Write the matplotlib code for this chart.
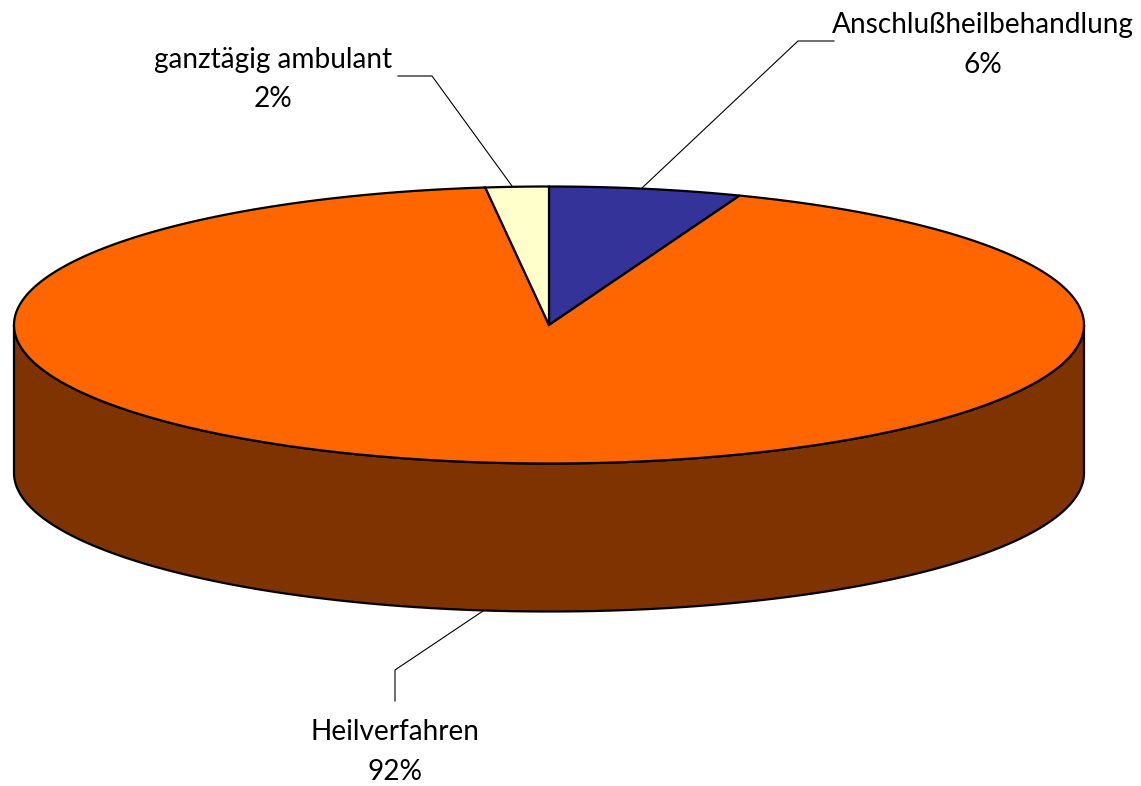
import numpy as np
import matplotlib
matplotlib.use("Agg")
import matplotlib.pyplot as plt
from matplotlib.patches import Polygon

categories = ["Anschlußheilbehandlung", "Heilverfahren", "ganztägig ambulant"]
values = [5.8, 92.3, 1.9]
colors = ["#333399", "#FF6600", "#FFFFCC"]
side_colors = ["#19194D", "#7F3300", "#80806A"]

W, H = 1141, 786
fig = plt.figure(figsize=(W / 100, H / 100), dpi=100, facecolor="white")
ax = fig.add_axes([0, 0, 1, 1])
ax.set_xlim(0, W)
ax.set_ylim(H, 0)
ax.axis("off")

CX, CY, RX, RY, DEPTH = 549, 325, 535, 138.5, 148
LW = 1.6


def pt(theta):
    return CX + RX * np.sin(theta), CY - RY * np.cos(theta)


fracs = np.array(values) / sum(values) * 2 * np.pi
starts = np.concatenate([[0], np.cumsum(fracs)[:-1]])

# side wall (front half only)
for s, f, c in zip(starts, fracs, side_colors):
    lo, hi = max(s, np.pi / 2), min(s + f, 3 * np.pi / 2)
    if hi <= lo:
        continue
    t = np.linspace(lo, hi, 300)
    x, y = pt(t)
    xy = np.r_[np.c_[x, y], np.c_[x[::-1], y[::-1] + DEPTH]]
    ax.add_patch(Polygon(xy, closed=True, fc=c, ec="black", lw=LW, joinstyle="round", zorder=2))

# top faces
for s, f, c in zip(starts, fracs, colors):
    t = np.linspace(s, s + f, 600)
    x, y = pt(t)
    xy = np.r_[[[CX, CY]], np.c_[x, y]]
    ax.add_patch(Polygon(xy, closed=True, fc=c, ec="black", lw=LW, joinstyle="miter", zorder=3))

# leader lines and labels
leaders = [
    [(834, 41), (798, 41), (642, 188)],
    [(395, 701), (395, 670), (483, 611)],
    [(398, 76), (432, 76), (512, 186)],
]
label_pos = [(983, 45), (395, 752), (273, 79.5)]
FONT = "Lato"
for name, v, path, (lx, ly) in zip(categories, values, leaders, label_pos):
    p = np.array(path)
    ax.plot(p[:, 0], p[:, 1], color="black", lw=0.8, zorder=4)
    ax.text(lx, ly, f"{name}\n{v:.0f}%", ha="center", va="center", fontsize=20.2,
            family=FONT, linespacing=1.62, color="black", zorder=5)

fig.savefig("out.png", dpi=100, facecolor="white")
